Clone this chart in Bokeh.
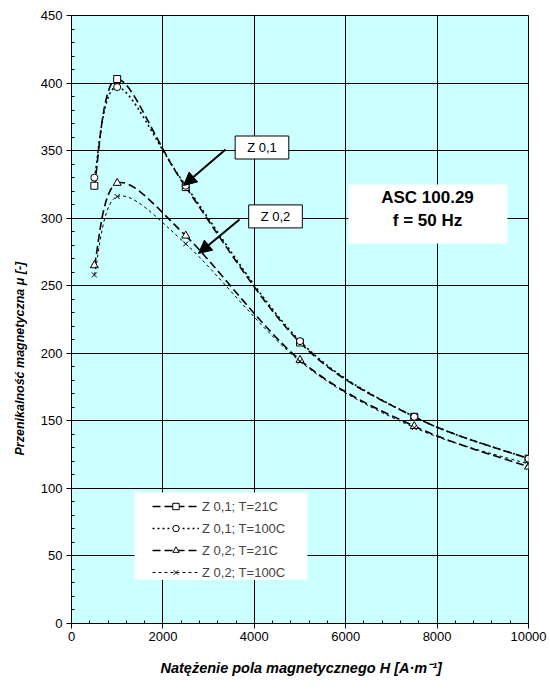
import numpy as np
from bokeh.plotting import figure
from bokeh.models import (Range1d, Label, Arrow, NormalHead, BoxAnnotation, Legend,
                          LegendItem, FixedTicker, ColumnDataSource, Title)
from bokeh.embed import file_html
from bokeh.resources import INLINE

# ---- data ----
H = [500, 1000, 2500, 5000, 7500, 10000]
mu_z01_t21 = [324, 403, 323, 208, 153, 122]
mu_z01_t100 = [330, 397, 324, 209, 153, 122]
mu_z02_t21 = [265, 326, 287, 195, 146, 116]
mu_z02_t100 = [258, 316, 281, 194, 145, 118]
series_labels = ["Z 0,1; T=21C", "Z 0,1; T=100C", "Z 0,2; T=21C", "Z 0,2; T=100C"]
x_ticks = [0, 2000, 4000, 6000, 8000, 10000]
y_ticks = [0, 50, 100, 150, 200, 250, 300, 350, 400, 450]

FONT = "Liberation Sans"


def smooth_segments(x, y):
    """Control points for a smoothed (Catmull-Rom like) curve through the points."""
    x = np.asarray(x, float)
    y = np.asarray(y, float)
    xp = np.concatenate([[x[0]], x, [x[-1]]])
    yp = np.concatenate([[y[0]], y, [y[-1]]])
    i = np.arange(len(x) - 1)
    return dict(
        x0=xp[i + 1], y0=yp[i + 1], x1=xp[i + 2], y1=yp[i + 2],
        cx0=xp[i + 1] + (xp[i + 2] - xp[i]) / 6, cy0=yp[i + 1] + (yp[i + 2] - yp[i]) / 6,
        cx1=xp[i + 2] - (xp[i + 3] - xp[i + 1]) / 6, cy1=yp[i + 2] - (yp[i + 3] - yp[i + 1]) / 6,
    )


p = figure(width=550, height=697, x_range=Range1d(0, 10000), y_range=Range1d(0, 450),
           output_backend="svg", toolbar_location=None,
           min_border_left=71, min_border_right=22, min_border_top=15, min_border_bottom=74,
           background_fill_color="#CCFFFF", border_fill_color="white",
           outline_line_color="black", outline_line_width=1)

# axes
p.xaxis.ticker = FixedTicker(ticks=x_ticks, minor_ticks=list(range(0, 10001, 400)))
p.yaxis.ticker = FixedTicker(ticks=y_ticks, minor_ticks=list(range(0, 451, 10)))
for ax in (p.xaxis[0], p.yaxis[0]):
    ax.axis_line_color = "black"
    ax.major_tick_line_color = "black"
    ax.minor_tick_line_color = "black"
    ax.major_tick_out = 5
    ax.major_tick_in = 0
    ax.minor_tick_in = 3
    ax.minor_tick_out = 0
    ax.major_label_text_font = FONT
    ax.major_label_text_font_size = "13px"
    ax.major_label_text_color = "black"
p.yaxis.major_label_standoff = 4
p.xaxis.major_label_standoff = 3

p.grid.grid_line_color = "black"
p.grid.grid_line_width = 1
p.grid.grid_line_alpha = 1

styles = [
    dict(line_dash="8 4", line_width=1.6, marker="square"),
    dict(line_dash="2 3", line_width=1.6, marker="circle"),
    dict(line_dash="8 4", line_width=1.6, marker="triangle"),
    dict(line_dash="3 3", line_width=1.0, marker="x"),
]
all_series = [mu_z01_t21, mu_z01_t100, mu_z02_t21, mu_z02_t100]

# white backing for legend and info box (drawn over the grid)
p.add_layout(BoxAnnotation(left=1379, right=5164, bottom=32.6, top=97,
                           fill_color="white", fill_alpha=1, line_color=None))
p.add_layout(BoxAnnotation(left=6061, right=9540, bottom=281.3, top=325,
                           fill_color="white", fill_alpha=1, line_color=None))

items = []
for mu, st, lab in zip(all_series, styles, series_labels):
    src = ColumnDataSource(smooth_segments(H, mu))
    br = p.bezier(x0="x0", y0="y0", x1="x1", y1="y1", cx0="cx0", cy0="cy0",
                  cx1="cx1", cy1="cy1", source=src, line_color="black",
                  line_width=st["line_width"], line_dash=st["line_dash"])
    size = 7 if st["marker"] != "triangle" else 8
    sr = p.scatter(H, mu, marker=st["marker"], size=size, fill_color="white",
                   line_color="black", line_width=1)
    items.append(LegendItem(label=lab, renderers=[br, sr]))

legend = Legend(items=items, location=(81, 43), margin=0, padding=4, spacing=6,
                glyph_width=47, glyph_height=16, label_height=16, label_standoff=3,
                label_text_font=FONT, label_text_font_size="13px",
                background_fill_color="white", background_fill_alpha=1,
                border_line_color=None)
p.add_layout(legend)

# info text
p.add_layout(Label(x=7790, y=315.3, text="ASC 100.29", text_align="center",
                   text_baseline="middle", text_font=FONT, text_font_size="17px",
                   text_font_style="bold", text_color="black"))
p.add_layout(Label(x=7790, y=298.5, text="f = 50 Hz", text_align="center",
                   text_baseline="middle", text_font=FONT, text_font_size="17px",
                   text_font_style="bold", text_color="black"))

# callouts
for (xs, ys, xe, ye) in [(3370, 350.9, 2451, 324.2), (3676, 299, 2779, 273.9)]:
    p.add_layout(Arrow(end=NormalHead(size=13, fill_color="black", line_color="black"),
                       x_start=xs, y_start=ys, x_end=xe, y_end=ye,
                       line_color="black", line_width=2))
for (tx, ty, txt) in [(4168, 352.3, "Z 0,1"), (4464, 301.3, "Z 0,2")]:
    p.add_layout(Label(x=tx, y=ty, text=txt, text_align="center", text_baseline="middle",
                       text_font=FONT, text_font_size="13px", text_color="black",
                       background_fill_color="white", background_fill_alpha=1,
                       border_line_color="black", border_line_width=1,
                       padding=dict(left=12, right=12, top=4, bottom=4)))

# axis titles
p.add_layout(Title(text="Przenikalność magnetyczna  μ [-]", align="left", offset=168,
                   standoff=18, vertical_align="top", text_font=FONT,
                   text_font_size="12.5px", text_font_style="bold italic",
                   text_color="black"), "left")
p.add_layout(Title(text="Natężenie pola magnetycznego  H [A·m⁻¹]", align="left", offset=89,
                   standoff=28, text_font=FONT, text_font_size="14.5px",
                   text_font_style="bold italic", text_color="black"), "below")

open("out.html", "w").write(file_html(p, INLINE))
